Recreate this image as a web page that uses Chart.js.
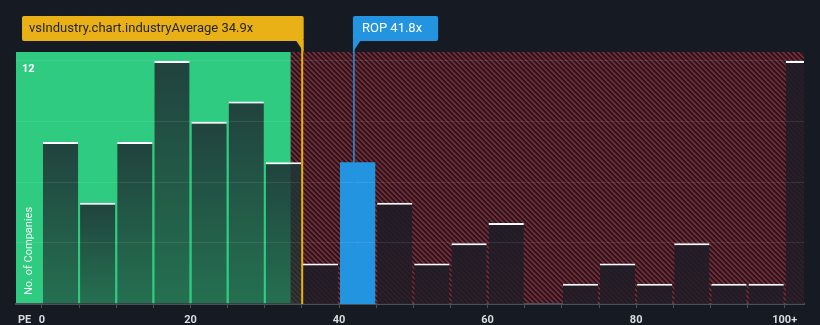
<!DOCTYPE html>
<html><head><meta charset="utf-8">
<script src="https://cdn.jsdelivr.net/npm/chart.js@4.4.1/dist/chart.umd.min.js"></script>
<style>html,body{margin:0;padding:0;background:#151a23;}canvas{display:block}</style>
</head><body>
<canvas id="c" width="820" height="325"></canvas>
<script>
// ---- data ----
const binStarts = [0,5,10,15,20,25,30,35,40,45,50,55,60,65,70,75,80,85,90,95,100];
const binLabels = ['0-5','5-10','10-15','15-20','20-25','25-30','30-35','35-40','40-45','45-50','50-55','55-60','60-65','65-70','70-75','75-80','80-85','85-90','90-95','95-100','100+'];
const companyCounts = [8,5,8,12,9,10,7,2,7,5,2,3,4,0,1,2,1,3,1,1,12];
const xTickValues = [0,20,40,60,80,100];
const xTickLabels = ['0','20','40','60','80','100+'];
const yGridValues = [3,6,9,12];
const yLabeledValue = 12;
const industryAverage = 34.9;
const industryLabel = 'vsIndustry.chart.industryAverage 34.9x';
const companyName = 'ROP';
const companyPE = 41.8;
const companyLabel = companyName + ' 41.8x';
const fairRangeEnd = 33.5;
const binWidth = 5;

const highlightIndex = binStarts.findIndex(s => companyPE >= s && companyPE < s + binWidth);
const FONT = 'Roboto, "Noto Sans", sans-serif';

// hatch pattern
function makeHatch(){
  const P = 5;
  const cv = document.createElement('canvas'); cv.width = P; cv.height = P;
  const c = cv.getContext('2d');
  const img = c.createImageData(P,P);
  for (let y=0;y<P;y++) for (let x=0;x<P;x++){
    const k = (((x - y) % P) + P) % P;
    const i = (y*P + x)*4;
    let r=27,g=25,b=33;
    if (k===0 || k===1){ r=126; g=39; b=49; }
    else if (k===2){ r=78; g=31; b=41; }
    img.data[i]=r; img.data[i+1]=g; img.data[i+2]=b; img.data[i+3]=255;
  }
  c.putImageData(img,0,0);
  return cv;
}
const hatchCanvas = makeHatch();

const bgPlugin = {
  id: 'bg',
  beforeDraw(chart){
    const {ctx, chartArea:a, scales:{x}} = chart;
    ctx.save();
    ctx.fillStyle = '#151a23';
    ctx.fillRect(0,0,chart.width,chart.height);
    const split = x.getPixelForValue(fairRangeEnd);
    ctx.fillStyle = '#2ecb80';
    ctx.fillRect(a.left, a.top, split - a.left, a.bottom - a.top);
    const r = 4;
    ctx.beginPath();
    ctx.moveTo(split, a.top);
    ctx.lineTo(a.right - r, a.top);
    ctx.quadraticCurveTo(a.right, a.top, a.right, a.top + r);
    ctx.lineTo(a.right, a.bottom);
    ctx.lineTo(split, a.bottom);
    ctx.closePath();
    ctx.fillStyle = ctx.createPattern(hatchCanvas, 'repeat');
    ctx.fill();
    ctx.restore();
  },
  afterDatasetsDraw(chart){
    const {ctx, chartArea:a, scales:{x,y}} = chart;
    ctx.save();
    // gridlines
    ctx.strokeStyle = 'rgba(255,255,255,0.09)';
    ctx.lineWidth = 1;
    yGridValues.forEach(v => {
      const py = Math.round(y.getPixelForValue(v)) - 0.5;
      ctx.beginPath(); ctx.moveTo(a.left, py); ctx.lineTo(a.right, py); ctx.stroke();
    });
    const boxTop = 16, boxBottom = 41;
    // industry average line + box
    const xa = x.getPixelForValue(industryAverage) + 1;
    ctx.strokeStyle = '#e9b116'; ctx.lineWidth = 2;
    ctx.beginPath(); ctx.moveTo(xa, boxBottom); ctx.lineTo(xa, a.bottom); ctx.stroke();
    const yl = a.left + 6, yr = xa + 1.5;
    ctx.fillStyle = '#e9b116';
    ctx.beginPath();
    ctx.roundRect(yl, boxTop, yr - yl, boxBottom - boxTop, 2);
    ctx.fill();
    ctx.beginPath(); ctx.moveTo(yr - 8, boxBottom - 1); ctx.lineTo(yr, boxBottom - 1); ctx.lineTo(yr, a.top); ctx.closePath(); ctx.fill();
    ctx.font = '13px ' + FONT;
    ctx.textBaseline = 'middle'; ctx.textAlign = 'left';
    ctx.fillStyle = '#262626';
    ctx.fillText(industryLabel, yl + 7, (boxTop + boxBottom)/2 + 0.5);
    // company line + box
    const xc = x.getPixelForValue(companyPE) + 1.5;
    ctx.strokeStyle = '#2394e0'; ctx.lineWidth = 1.5;
    ctx.beginPath(); ctx.moveTo(xc, boxBottom); ctx.lineTo(xc, a.bottom); ctx.stroke();
    const bl = xc - 1;
    const tw = ctx.measureText(companyLabel).width;
    const br = bl + tw + 9 + 16;
    ctx.fillStyle = '#2394e0';
    ctx.beginPath(); ctx.roundRect(bl, boxTop, br - bl, boxBottom - boxTop, 2); ctx.fill();
    ctx.beginPath(); ctx.moveTo(bl, boxBottom - 1); ctx.lineTo(bl + 8, boxBottom - 1); ctx.lineTo(bl, a.top); ctx.closePath(); ctx.fill();
    ctx.fillStyle = '#ffffff';
    ctx.fillText(companyLabel, bl + 9, (boxTop + boxBottom)/2 + 0.5);
    // y label 12
    ctx.font = 'bold 11px ' + FONT;
    ctx.fillStyle = '#ffffff';
    ctx.fillText(String(yLabeledValue), a.left + 6, y.getPixelForValue(yLabeledValue) + 8);
    // y axis title
    ctx.save();
    ctx.translate(a.left + 13.5, a.bottom - 9);
    ctx.rotate(-Math.PI/2);
    ctx.font = '11px ' + FONT;
    ctx.fillStyle = 'rgba(255,255,255,0.92)';
    ctx.textAlign = 'left'; ctx.textBaseline = 'middle';
    ctx.fillText('No. of Companies', 0, 0);
    ctx.restore();
    // PE label
    ctx.font = 'bold 11px ' + FONT;
    ctx.fillStyle = '#dcdcdc';
    ctx.textAlign = 'left'; ctx.textBaseline = 'middle';
    ctx.fillText('PE', 18, 320);
    ctx.restore();
  }
};

function barFill(ctx){
  const chart = ctx.chart;
  const i = ctx.dataIndex;
  if (i === highlightIndex) return '#2394e0';
  if (!companyCounts[i]) return 'rgba(0,0,0,0)';
  const {chartArea, scales} = chart;
  if (!chartArea || !scales.y) return 'rgba(31,52,52,0.85)';
  const top = scales.y.getPixelForValue(companyCounts[i]);
  const bottom = scales.y.getPixelForValue(0);
  const g = chart.ctx.createLinearGradient(0, top, 0, Math.max(bottom, top + 1));
  if (binStarts[i] >= fairRangeEnd) {
    g.addColorStop(0, 'rgba(30,28,38,0.9)');
    g.addColorStop(1, 'rgba(30,28,38,0.8)');
    return g;
  }
  g.addColorStop(0, 'rgba(31,52,54,0.9)');
  g.addColorStop(1, 'rgba(31,56,52,0.62)');
  return g;
}

new Chart(document.getElementById('c'), {
  type: 'bar',
  data: {
    labels: binLabels,
    datasets: [{
      label: 'No. of Companies',
      data: binStarts.map((s, i) => ({ x: s + binWidth/2, y: companyCounts[i] })),
      backgroundColor: barFill,
      borderColor: '#ffffff',
      borderWidth: (ctx) => (ctx.dataIndex === highlightIndex || !companyCounts[ctx.dataIndex]) ? 0 : { top: 2, left: 0, right: 0, bottom: 0 },
      borderSkipped: 'bottom',
      barPercentage: 0.95,
      categoryPercentage: 1.0
    }]
  },
  options: {
    responsive: false,
    animation: false,
    devicePixelRatio: 1,
    layout: { padding: { left: 16, right: 16, top: 52, bottom: 0 } },
    plugins: { legend: { display: false }, tooltip: { enabled: false } },
    scales: {
      x: {
        type: 'linear',
        offset: false,
        min: -3.5,
        max: 102.6,
        afterBuildTicks: (scale) => { scale.ticks = binStarts.map(v => ({ value: v })); },
        afterFit: (scale) => { scale.height = 21; },
        ticks: {
          autoSkip: false, maxRotation: 0, padding: 6,
          color: '#dcdcdc',
          font: { family: FONT, size: 11, weight: 'bold' },
          callback: (v) => { const k = xTickValues.indexOf(v); return k >= 0 ? xTickLabels[k] : ''; }
        },
        grid: { offset: false, drawOnChartArea: false, drawTicks: true, tickLength: 4, color: '#4a4f58', lineWidth: 1 },
        border: { display: true, color: '#4a4f58', width: 2 }
      },
      y: { display: false, min: 0, max: 12.45 }
    }
  },
  plugins: [bgPlugin]
});
</script>
</body></html>
